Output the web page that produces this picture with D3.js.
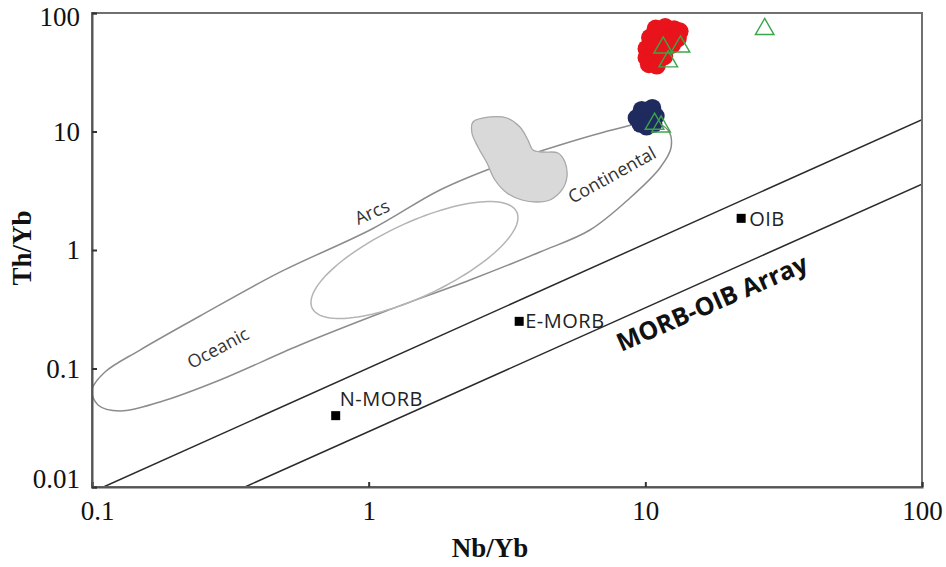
<!DOCTYPE html>
<html>
<head>
<meta charset="utf-8">
<script src="https://cdn.jsdelivr.net/npm/d3@7"></script>
<style>
  body { margin: 0; background: #fff; }
  svg { display: block; }
</style>
</head>
<body>
<svg id="chart" width="946" height="567"></svg>
<script>
// Th/Yb vs Nb/Yb discrimination diagram (log-log)

const xTicks = [0.1, 1, 10, 100];
const xTickLabels = ["0.1", "1", "10", "100"];
const yTicks = [0.01, 0.1, 1, 10, 100];
const yTickLabels = ["0.01", "0.1", "1", "10", "100"];

// reference mantle compositions
const refNames = ["N-MORB", "E-MORB", "OIB"];
const refNb = [0.76, 3.5, 22.2];
const refTh = [0.04, 0.25, 1.85];

// sample groups
const redNb = [10.9, 11.8, 12.7, 13.3, 10.4, 11.3, 12.3, 13.1, 10.1, 10.9, 11.8, 12.5, 10.1, 10.8, 11.7, 11.2, 10.3, 11.0];
const redTh = [74, 76, 73, 70, 62, 64, 60, 61, 50, 52, 49, 54, 42, 41, 43, 45, 37, 36];

const navyNb = [9.3, 9.7, 10.6, 10.9, 10.2, 9.6, 10.7, 10.1];
const navyTh = [13.0, 15.2, 15.8, 13.5, 12.0, 11.6, 11.6, 11.0];

const greenNb = [27.0, 11.6, 13.4, 12.1, 10.8, 11.4];
const greenTh = [73, 51, 52, 39, 11.6, 11.0];

// MORB-OIB array boundaries [Nb/Yb, Th/Yb]
const arrayUpper = [[0.11, 0.01], [100, 12.6]];
const arrayLower = [[0.357, 0.01], [100, 3.6]];

// arc field outline [Nb/Yb, Th/Yb]
const arcField = [
  [0.100, 0.0659], [0.1114, 0.0934], [0.1491, 0.1432], [0.2456, 0.2773],
  [0.478, 0.650], [1.028, 1.504], [1.810, 3.209], [2.983, 5.216],
  [4.914, 7.693], [8.094, 10.70], [10.39, 12.03], [12.07, 10.30],
  [12.38, 7.258], [11.29, 4.920], [8.799, 2.747], [6.307, 1.475],
  [4.160, 0.962], [2.323, 0.558], [1.155, 0.3056], [0.5645, 0.1579],
  [0.2902, 0.0800], [0.1761, 0.0522], [0.1263, 0.0438], [0.1051, 0.0492]
];

// inner elliptical field: centre and two conjugate semi-diameter ends
const innerCentre = [1.464, 0.823];
const innerEndA = [3.430, 2.093];
const innerEndB = [1.668, 0.430];

// shaded field outline
const shadedField = [
  [2.382, 12.03], [2.744, 13.26], [3.161, 13.00], [3.523, 10.91],
  [3.765, 8.478], [3.925, 6.982], [4.265, 6.714], [4.833, 6.585],
  [5.121, 5.529], [5.207, 4.130], [4.995, 3.209], [4.521, 2.642],
  [4.057, 2.542], [3.581, 2.642], [3.161, 3.027], [2.861, 3.896],
  [2.677, 5.423], [2.483, 7.399], [2.362, 9.712]
];

// field labels
const fieldLabels = ["Oceanic", "Arcs", "Continental"];
const fieldLabelNb = [0.2853, 1.028, 7.574];
const fieldLabelTh = [0.149, 2.093, 4.295];
const fieldLabelAngle = [-28, -24, -29];

const svg = d3.select("#chart");
const L = 92, R = 922, T = 13, B = 487;

const x = d3.scaleLog().domain([0.1, 100]).range([L, R]);
const y = d3.scaleLog().domain([0.01, 100]).range([B, T]);

const plot = svg.append("g");

// clip to plot area
svg.append("defs").append("clipPath").attr("id", "clip")
  .append("rect").attr("x", L).attr("y", T).attr("width", R - L).attr("height", B - T);
const inner = plot.append("g").attr("clip-path", "url(#clip)");

const closedPath = d3.line().x(d => x(d[0])).y(d => y(d[1])).curve(d3.curveCatmullRomClosed.alpha(0.5));

// arc field
inner.append("path")
  .datum(arcField)
  .attr("d", closedPath)
  .attr("fill", "none").attr("stroke", "#8c8c8c").attr("stroke-width", 1.5);

// inner ellipse traced in log space
const lc = innerCentre.map(Math.log10), la = innerEndA.map(Math.log10), lb = innerEndB.map(Math.log10);
const ellipse = d3.range(0, 120).map(i => {
  const t = i / 120 * 2 * Math.PI;
  return [
    Math.pow(10, lc[0] + Math.cos(t) * (la[0] - lc[0]) + Math.sin(t) * (lb[0] - lc[0])),
    Math.pow(10, lc[1] + Math.cos(t) * (la[1] - lc[1]) + Math.sin(t) * (lb[1] - lc[1]))
  ];
});
inner.append("path")
  .datum(ellipse)
  .attr("d", d3.line().x(d => x(d[0])).y(d => y(d[1])).curve(d3.curveLinearClosed))
  .attr("fill", "none").attr("stroke", "#b4b4b4").attr("stroke-width", 1.5);

// shaded field (opaque, covers the arc outline beneath it)
inner.append("path")
  .datum(shadedField)
  .attr("d", closedPath)
  .attr("fill", "#d9d9d9").attr("stroke", "#a8a8a8").attr("stroke-width", 1.3);

// MORB-OIB array lines
[arrayUpper, arrayLower].forEach(seg => {
  inner.append("line")
    .attr("x1", x(seg[0][0])).attr("y1", y(seg[0][1]))
    .attr("x2", x(seg[1][0])).attr("y2", y(seg[1][1]))
    .attr("stroke", "#2a2a2a").attr("stroke-width", 1.5);
});

// field labels
fieldLabels.forEach((t, i) => {
  const px = x(fieldLabelNb[i]), py = y(fieldLabelTh[i]);
  plot.append("text")
    .attr("transform", `translate(${px},${py}) rotate(${fieldLabelAngle[i]})`)
    .attr("text-anchor", "middle").attr("dy", "0.35em")
    .attr("font-family", "'Open Sans', sans-serif").attr("font-size", 18)
    .attr("fill", "#333").text(t);
});

// array label
{
  const px = x(17.41), py = y(0.357);
  plot.append("text")
    .attr("transform", `translate(${px},${py}) rotate(-23.5)`)
    .attr("text-anchor", "middle").attr("dy", "0.35em")
    .attr("font-family", "'Open Sans', sans-serif").attr("font-size", 25)
    .attr("font-weight", "bold").attr("fill", "#111").text("MORB-OIB Array");
}

// reference compositions
refNames.forEach((n, i) => {
  const px = x(refNb[i]), py = y(refTh[i]);
  plot.append("rect").attr("x", px - 4.5).attr("y", py - 4.5).attr("width", 9).attr("height", 9).attr("fill", "#000");
});
const refLabelDx = [4, 6, 8], refLabelDy = [-10, 7, 8];
refNames.forEach((n, i) => {
  plot.append("text")
    .attr("x", x(refNb[i]) + refLabelDx[i]).attr("y", y(refTh[i]) + refLabelDy[i])
    .attr("font-family", "'Open Sans', sans-serif").attr("font-size", 20)
    .attr("letter-spacing", 0.5)
    .attr("fill", "#222").text(n);
});

// samples
const redPts = redNb.map((v, i) => [v, redTh[i]]);
const navyPts = navyNb.map((v, i) => [v, navyTh[i]]);
const greenPts = greenNb.map((v, i) => [v, greenTh[i]]);

plot.append("g").selectAll("circle").data(redPts).join("circle")
  .attr("cx", d => x(d[0])).attr("cy", d => y(d[1])).attr("r", 9)
  .attr("fill", "#e8131b");

plot.append("g").selectAll("circle").data(navyPts).join("circle")
  .attr("cx", d => x(d[0])).attr("cy", d => y(d[1])).attr("r", 9)
  .attr("fill", "#1f2a5e");

const tri = d3.symbol().type(d3.symbolTriangle).size(150);
plot.append("g").selectAll("path").data(greenPts).join("path")
  .attr("transform", d => `translate(${x(d[0])},${y(d[1])})`)
  .attr("d", tri).attr("fill", "none").attr("stroke", "#3aa64a").attr("stroke-width", 1.4);

// frame
plot.append("rect").attr("x", L).attr("y", T).attr("width", R - L).attr("height", B - T)
  .attr("fill", "none").attr("stroke", "#707070").attr("stroke-width", 2);

// axes
const xAxis = d3.axisBottom(x).tickValues(xTicks).tickSize(-5).tickPadding(14)
  .tickFormat((d, i) => xTickLabels[i]);
const yAxis = d3.axisLeft(y).tickValues(yTicks).tickSize(-5).tickPadding(12)
  .tickFormat((d, i) => yTickLabels[i]);

const gx = svg.append("g").attr("transform", `translate(0,${B})`).call(xAxis);
const gy = svg.append("g").attr("transform", `translate(${L},0)`).call(yAxis);
[gx, gy].forEach(g => {
  g.select(".domain").attr("stroke", "#555").attr("stroke-width", 2);
  g.selectAll(".tick line").attr("stroke", "#333").attr("stroke-width", 2);
  g.selectAll(".tick text").attr("font-family", "'Liberation Serif', serif")
    .attr("font-size", 27).attr("fill", "#111");
});
// keep the corner labels clear of each other
gx.selectAll(".tick text").filter(d => d === 0.1).attr("dx", 5);
gy.selectAll(".tick text").filter(d => d === 0.01).attr("dy", "0.0em");
gy.selectAll(".tick text").filter(d => d === 100).attr("dy", "0.45em");

// axis titles
svg.append("text").attr("x", 490).attr("y", 557).attr("text-anchor", "middle")
  .attr("font-family", "'Liberation Serif', serif").attr("font-weight", "bold")
  .attr("font-size", 27).attr("fill", "#111").text("Nb/Yb");
svg.append("text").attr("transform", `translate(31,248) rotate(-90)`).attr("text-anchor", "middle")
  .attr("font-family", "'Liberation Serif', serif").attr("font-weight", "bold")
  .attr("font-size", 27).attr("fill", "#111").text("Th/Yb");
</script>
</body>
</html>
